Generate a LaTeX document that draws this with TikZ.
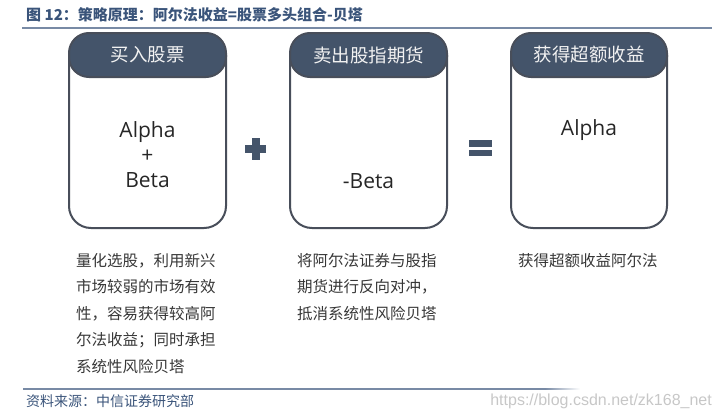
\documentclass[tikz,border=0pt]{standalone}
\usepackage{fontspec}
\setmainfont{Open Sans}
\newfontfamily\cjk{Noto Sans CJK SC}
\newfontfamily\wmfont{Liberation Sans}
\definecolor{headc}{RGB}{68,84,106}
\definecolor{edgec}{RGB}{72,78,90}
\definecolor{titlec}{RGB}{58,84,122}
\definecolor{rulec}{RGB}{120,138,165}
\definecolor{txtc}{RGB}{55,55,55}
\begin{document}
\begin{tikzpicture}[x=1pt,y=-1pt,
  head/.style={fill=headc, draw=edgec, line width=2pt, rounded corners=20pt,
    minimum width=157pt, minimum height=44pt, inner sep=0pt, text=white!95!black,
    font=\cjk\fontsize{18.5}{20}\selectfont},
  body/.style={draw=edgec, line width=2pt, rounded corners=22pt},
  desc/.style={anchor=north west, align=left, inner sep=0pt, text=txtc,
    font=\cjk\fontsize{15.5}{26.5}\selectfont},
  big/.style={align=center, inner sep=0pt, text=black!85,
    font=\fontsize{21}{25}\selectfont},
  sym/.style={fill=headc, draw=none}]
\useasboundingbox (0,0) rectangle (723,415);
% title
\node[anchor=west, inner sep=0pt, text=titlec, font=\cjk\bfseries\fontsize{15}{17}\selectfont] (title) at (26,15) {图 12：策略原理：阿尔法收益=股票多头组合-贝塔};
\draw[rulec, line width=1.8pt] (22,28) -- (712,28);
% box 1
\draw[body] (69,55) -- (69,228) -- (226,228) -- (226,55);
\node[head] (h1) at (147.5,55) {买入股票};
\node[big] (t1) at (147.5,155) {Alpha\\+\\Beta};
% box 2
\draw[body] (290,55) -- (290,228) -- (447,228) -- (447,55);
\node[head] (h2) at (368.5,55) {卖出股指期货};
\node[big] (t2) at (368.5,181) {-Beta};
% box 3
\draw[body] (511,55) -- (511,228) -- (667,228) -- (667,55);
\node[head, minimum width=156pt] (h3) at (589,55) {获得超额收益};
\node[big] (t3) at (589,130) {Alpha};
% plus and equals
\fill[sym] (245,145) rectangle (266,153);
\fill[sym] (251.5,138) rectangle (259.5,160);
\fill[sym] (469,140) rectangle (492,146.5);
\fill[sym] (469,149.5) rectangle (492,156);
% descriptions
\node[desc] (d1) at (76,253) {量化选股，利用新兴\\市场较弱的市场有效\\性，容易获得较高阿\\尔法收益；同时承担\\系统性风险贝塔};
\node[desc] (d2) at (297,253) {将阿尔法证券与股指\\期货进行反向对冲，\\抵消系统性风险贝塔};
\node[desc] (d3) at (518,253) {获得超额收益阿尔法};
% footer
\shade[left color=rulec, right color=rulec, middle color=rulec] (23,388.3) rectangle (545,389.7);
\shade[left color=rulec, right color=white] (545,388.3) rectangle (580,389.7);
\node[anchor=west, inner sep=0pt, text=titlec, font=\cjk\fontsize{14}{16}\selectfont] (src) at (26,401) {资料来源：中信证券研究部};
\node[anchor=east, inner sep=0pt, text=black!22, font=\wmfont\fontsize{16}{18}\selectfont] (wm) at (712,401) {https://blog.csdn.net/zk168\_net};
\end{tikzpicture}
\end{document}
